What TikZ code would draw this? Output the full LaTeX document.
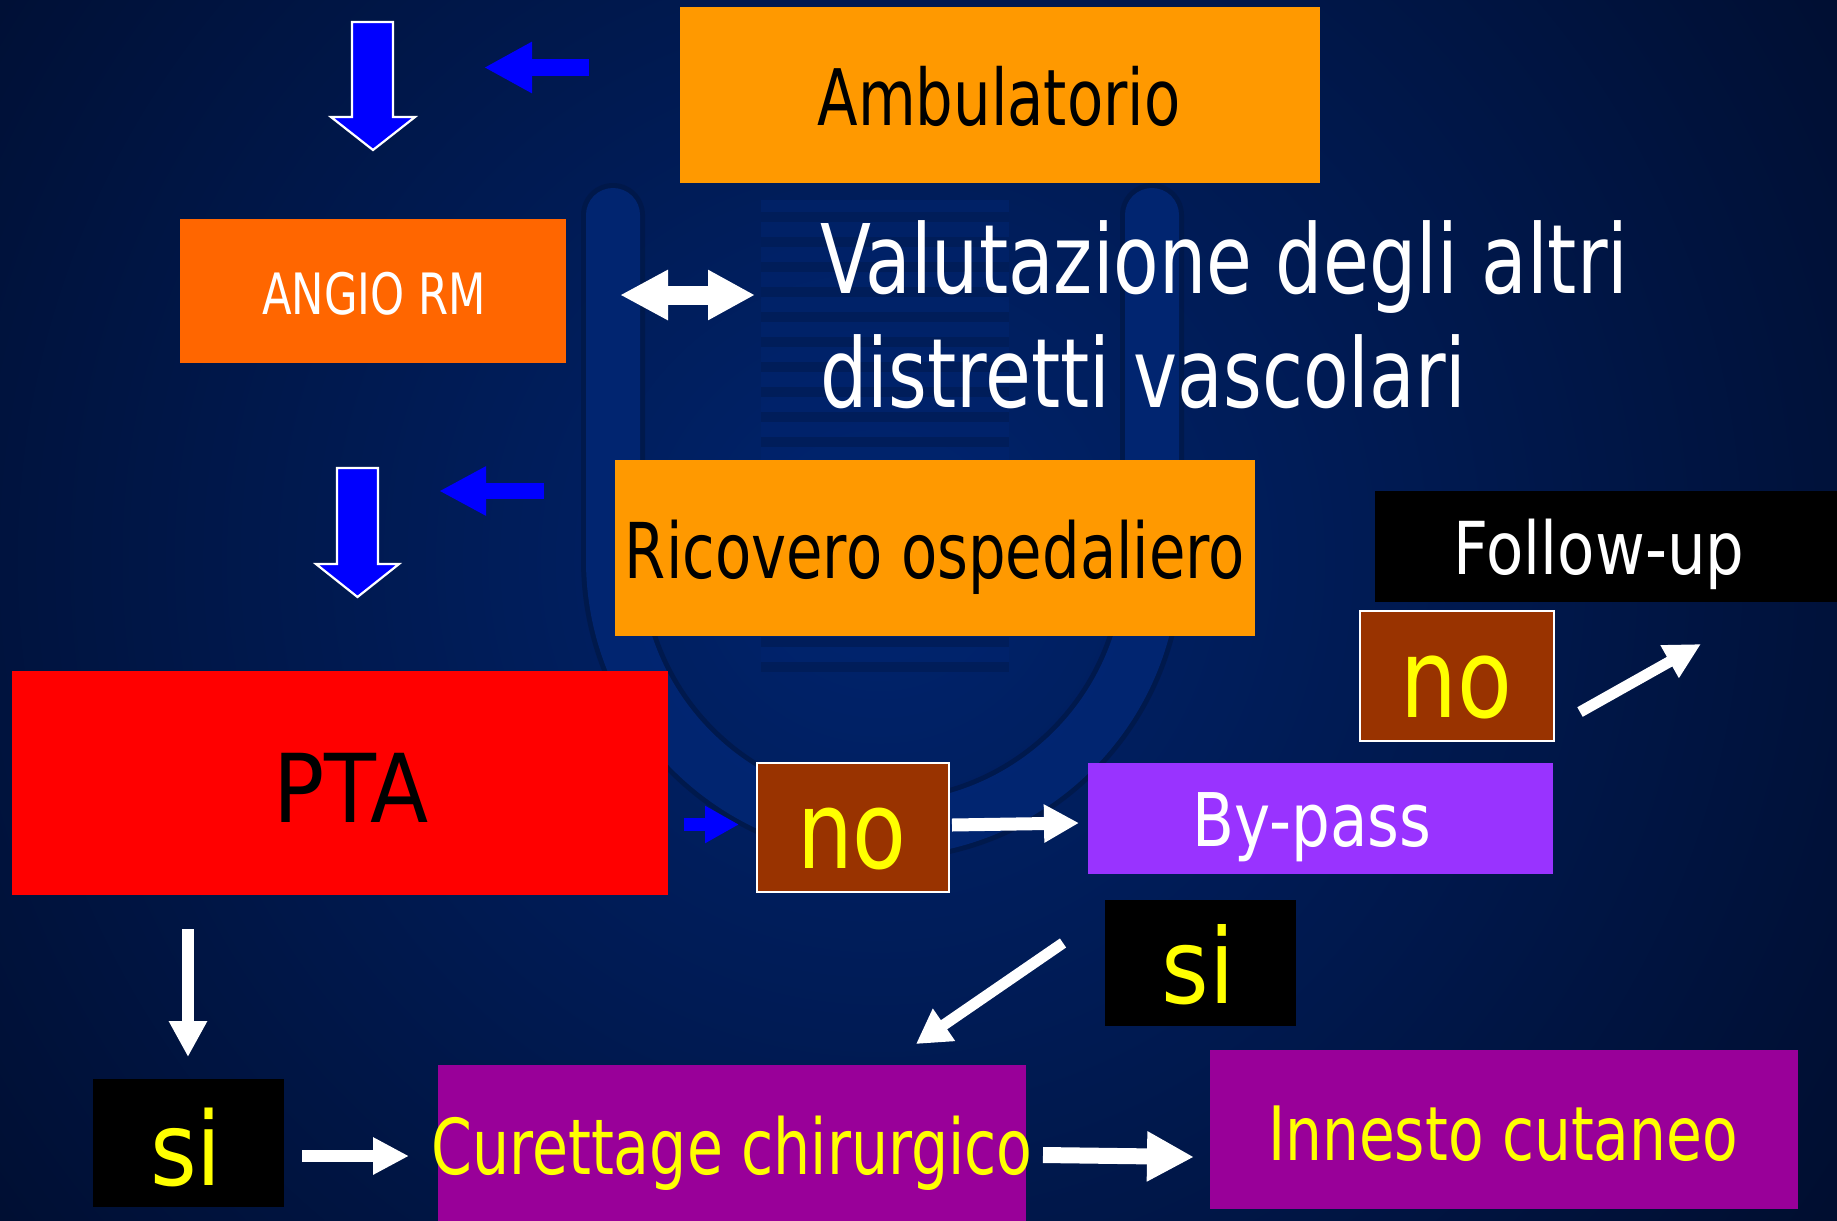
\documentclass[tikz,border=0pt]{standalone}
\usepackage{fontspec}
\setmainfont{DejaVu Sans}
\usetikzlibrary{arrows.meta}
\newcommand{\txtfont}[2]{\fontsize{#1}{#1}\addfontfeatures{FakeStretch=#2}\selectfont}
\definecolor{bgdark}{HTML}{000E30}
\definecolor{bgmid}{HTML}{00246E}
\definecolor{micU}{HTML}{02297A}
\definecolor{micedge}{HTML}{001848}
\definecolor{grill}{HTML}{001C56}
\definecolor{orangebox}{HTML}{FF9900}
\definecolor{angiobox}{HTML}{FF6600}
\definecolor{brownbox}{HTML}{993300}
\definecolor{bypassbox}{HTML}{9933FF}
\definecolor{plumbox}{HTML}{990099}
\definecolor{arrowblue}{HTML}{0000FF}
\definecolor{txtyellow}{HTML}{FFFF00}
\tikzset{
  box/.style={rectangle, inner sep=0pt, anchor=north west, draw=none},
  nobox/.style={box, fill=brownbox, draw=white, line width=2pt},
  txt/.style={inner sep=0pt, anchor=base},
  blockdown/.style={fill=arrowblue, draw=white, line width=2.2pt, line join=miter}
}
\begin{document}
\begin{tikzpicture}[x=1pt,y=-1pt]
\useasboundingbox (0,0) rectangle (1837,1221);
% background
\fill[bgdark] (0,0) rectangle (1837,1221);
\begin{scope}
\clip (0,0) rectangle (1837,1221);
\shade[inner color=bgmid, outer color=bgdark] (880,560) circle (1150pt);
% faint microphone in the background
\draw[micedge, line width=64pt, line cap=round, opacity=0.8] (613,215) -- (613,560) arc[start angle=180, end angle=360, radius=269.5pt] -- (1152,215);
\draw[micU, line width=54pt, line cap=round, opacity=0.8] (613,215) -- (613,560) arc[start angle=180, end angle=360, radius=269.5pt] -- (1152,215);
\fill[bgmid, opacity=0.6] (761,200) rectangle (1009,665);
\foreach \k in {0,...,18} {
  \fill[grill, opacity=0.8] (761,{212+25*\k}) rectangle (1009,{222+25*\k});
}
\end{scope}

% boxes
\node[box, fill=orangebox, minimum width=640pt, minimum height=176pt] (amb) at (680,7) {};
\node[box, fill=angiobox, minimum width=386pt, minimum height=144pt] (angio) at (180,219) {};
\node[box, fill=orangebox, minimum width=640pt, minimum height=176pt] (ric) at (615,460) {};
\node[box, fill=black, minimum width=462pt, minimum height=111pt] (follow) at (1375,491) {};
\node[nobox, minimum width=194pt, minimum height=130pt] (noA) at (1359,610) {};
\node[box, fill=red, minimum width=656pt, minimum height=224pt] (pta) at (12,671) {};
\node[nobox, minimum width=192pt, minimum height=129pt] (noB) at (756,762) {};
\node[box, fill=bypassbox, minimum width=465pt, minimum height=111pt] (bypass) at (1088,763) {};
\node[box, fill=black, minimum width=191pt, minimum height=126pt] (siR) at (1105,900) {};
\node[box, fill=black, minimum width=191pt, minimum height=128pt] (siL) at (93,1079) {};
\node[box, fill=plumbox, minimum width=588pt, minimum height=156pt] (cur) at (438,1065) {};
\node[box, fill=plumbox, minimum width=588pt, minimum height=159pt] (inn) at (1210,1050) {};

% texts
\node[txt, text=black, font=\txtfont{78}{0.76}] (tamb) at (999,125) {Ambulatorio};
\node[txt, text=white, font=\txtfont{57}{0.76}] (tangio) at (374,314) {ANGIO RM};
\node[txt, anchor=base west, text=white, font=\txtfont{96}{0.776}] (tval1) at (820,293) {Valutazione degli altri};
\node[txt, anchor=base west, text=white, font=\txtfont{96}{0.776}] (tval2) at (820,407) {distretti vascolari};
\node[txt, text=black, font=\txtfont{77}{0.77}] (tric) at (935,578) {Ricovero ospedaliero};
\node[txt, text=white, font=\txtfont{73}{0.835}] (tfollow) at (1599,574) {Follow-up};
\node[txt, text=txtyellow, font=\txtfont{110}{0.815}] (tnoA) at (1456,717) {no};
\node[txt, text=black, font=\txtfont{95}{0.895}] (tpta) at (351,822) {PTA};
\node[txt, text=txtyellow, font=\txtfont{108}{0.815}] (tnoB) at (852,868) {no};
\node[txt, text=white, font=\txtfont{74}{0.826}] (tbypass) at (1312,846) {By-pass};
\node[txt, text=txtyellow, font=\txtfont{104}{0.88}] (tsiR) at (1198,1003) {si};
\node[txt, text=txtyellow, font=\txtfont{102}{0.88}] (tsiL) at (186,1185) {si};
\node[txt, text=txtyellow, font=\txtfont{77}{0.76}] (tcur) at (732,1174) {Curettage chirurgico};
\node[txt, text=txtyellow, font=\txtfont{75}{0.776}] (tinn) at (1503,1160) {Innesto cutaneo};

% blue block arrows (down, white outline)
\filldraw[blockdown] (352,22) -- (393,22) -- (393,117) -- (415,117) -- (373,150) -- (331,117) -- (352,117) -- cycle;
\filldraw[blockdown] (337,468) -- (378,468) -- (378,564) -- (399,564) -- (357.5,597) -- (316,564) -- (337,564) -- cycle;

% arrow end points
\coordinate (bl1s) at (589,67.5);  \coordinate (bl1e) at (484,67.5);
\coordinate (bl2s) at (544,491);   \coordinate (bl2e) at (439,491);
\coordinate (br3s) at (684,824.5); \coordinate (br3e) at (739,824.5);
\coordinate (dbl1) at (620,295);   \coordinate (dbl2) at (755,295);
\coordinate (w1s) at (188,929);    \coordinate (w1e) at (188,1057);
\coordinate (w2s) at (302,1156);   \coordinate (w2e) at (409,1156);
\coordinate (w3s) at (1043,1155);  \coordinate (w3e) at (1194,1157);
\coordinate (w4s) at (952,825);    \coordinate (w4e) at (1079,823);
\coordinate (w5s) at (1580,712);   \coordinate (w5e) at (1701,644);
\coordinate (w6s) at (1063,943);   \coordinate (w6e) at (916,1044);

% blue arrows
\draw[draw=arrowblue, line width=17pt, -{Triangle[length=48pt,width=48pt]}] (bl1s) -- (bl1e);
\draw[draw=arrowblue, line width=16pt, -{Triangle[length=47pt,width=46pt]}] (bl2s) -- (bl2e);
\draw[draw=arrowblue, line width=13pt, -{Triangle[length=34pt,width=35pt]}] (br3s) -- (br3e);

% white arrows
\draw[draw=white, line width=19pt, {Triangle[length=48pt,width=47pt]}-{Triangle[length=47pt,width=47pt]}] (dbl1) -- (dbl2);
\draw[draw=white, line width=12pt, -{Triangle[length=36pt,width=36pt]}] (w1s) -- (w1e);
\draw[draw=white, line width=12pt, -{Triangle[length=36pt,width=35pt]}] (w2s) -- (w2e);
\draw[draw=white, line width=16pt, -{Triangle[length=47pt,width=47pt]}] (w3s) -- (w3e);
\draw[draw=white, line width=13pt, -{Triangle[length=35pt,width=36pt]}] (w4s) -- (w4e);
\draw[draw=white, line width=11pt, -{Triangle[length=36pt,width=35pt]}] (w5s) -- (w5e);
\draw[draw=white, line width=11pt, -{Triangle[length=34pt,width=37pt]}] (w6s) -- (w6e);
\end{tikzpicture}
\end{document}
